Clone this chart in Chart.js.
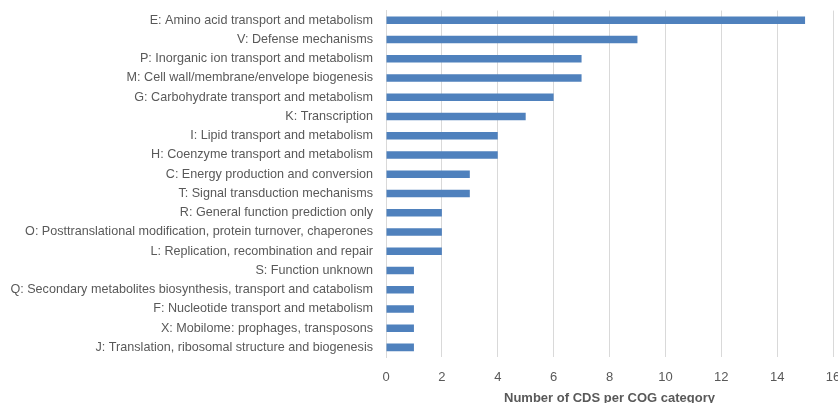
<!DOCTYPE html>
<html>
<head>
<meta charset="utf-8">
<script src="https://cdn.jsdelivr.net/npm/chart.js@4"></script>
<style>
  html, body { margin: 0; padding: 0; background: #fff; overflow: hidden; }
  #wrap { position: relative; width: 860px; height: 416px; margin-top: -10px; }
</style>
</head>
<body>
<div id="wrap"><canvas id="chart" width="860" height="416"></canvas></div>
<script>
const categories = [
  'E: Amino acid transport and metabolism',
  'V: Defense mechanisms',
  'P: Inorganic ion transport and metabolism',
  'M: Cell wall/membrane/envelope biogenesis',
  'G: Carbohydrate transport and metabolism',
  'K: Transcription',
  'I: Lipid transport and metabolism',
  'H: Coenzyme transport and metabolism',
  'C: Energy production and conversion',
  'T: Signal transduction mechanisms',
  'R: General function prediction only',
  'O: Posttranslational modification, protein turnover, chaperones',
  'L: Replication, recombination and repair',
  'S: Function unknown',
  'Q: Secondary metabolites biosynthesis, transport and catabolism',
  'F: Nucleotide transport and metabolism',
  'X: Mobilome: prophages, transposons',
  'J: Translation, ribosomal structure and biogenesis'
];
const counts = [15, 9, 7, 7, 6, 5, 4, 4, 3, 3, 2, 2, 2, 1, 1, 1, 1, 1];
const xTicks = [0, 2, 4, 6, 8, 10, 12, 14, 16];

const FONT = "'Liberation Sans', Arial, sans-serif";
const TEXT = '#595959';

new Chart(document.getElementById('chart'), {
  type: 'bar',
  data: {
    labels: categories,
    datasets: [{
      data: counts,
      backgroundColor: '#4f81bd',
      borderWidth: 0,
      barPercentage: 0.39,
      categoryPercentage: 1.0,
    }],
  },
  options: {
    indexAxis: 'y',
    responsive: false,
    animation: false,
    layout: { padding: { top: 0, right: 27, left: 0, bottom: 0 } },
    plugins: { legend: { display: false }, tooltip: { enabled: false } },
    scales: {
      x: {
        min: 0,
        max: 16,
        afterBuildTicks: s => { s.ticks = xTicks.map(v => ({ value: v })); },
        ticks: { color: TEXT, font: { family: FONT, size: 13 }, padding: 13 },
        grid: { color: '#d9d9d9', drawTicks: false },
        border: { display: false },
        title: {
          display: true,
          text: 'Number of CDS per COG category',
          color: TEXT,
          font: { family: FONT, size: 13, weight: 'bold' },
          padding: { top: 4, bottom: 0 },
        },
        afterFit: s => { s.height = 49; },
      },
      y: {
        ticks: { color: TEXT, font: { family: FONT, size: 12.6 }, padding: 13, autoSkip: false },
        grid: { display: false, drawTicks: false },
        border: { display: true, color: '#d9d9d9' },
        afterFit: s => { s.width = 386; },
      },
    },
  },
});
</script>
</body>
</html>
